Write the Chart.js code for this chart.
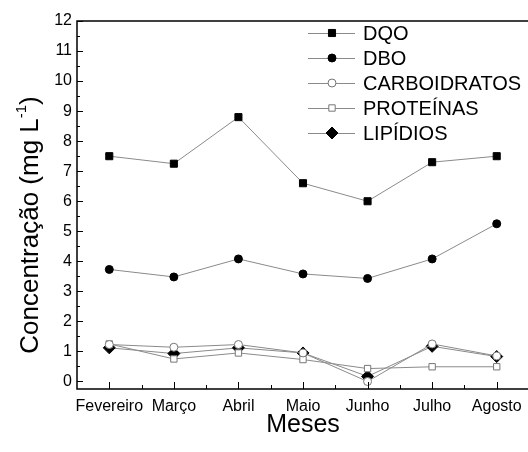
<!DOCTYPE html>
<html>
<head>
<meta charset="utf-8">
<script src="https://cdn.jsdelivr.net/npm/chart.js@4"></script>
<style>
  html, body { margin: 0; padding: 0; background: #fff; overflow: hidden; }
  #wrap { position: absolute; left: 0; top: 0; width: 536px; height: 452px; }
</style>
</head>
<body>
<div id="wrap"><canvas id="chart"></canvas></div>
<script>
const months = ['Fevereiro', 'Março', 'Abril', 'Maio', 'Junho', 'Julho', 'Agosto'];
const yTicks = [0, 1, 2, 3, 4, 5, 6, 7, 8, 9, 10, 11, 12];

const dqo = [7.5, 7.25, 8.8, 6.6, 6.0, 7.3, 7.5];
const dbo = [3.73, 3.48, 4.08, 3.58, 3.43, 4.08, 5.25];
const carboidratos = [1.23, 1.14, 1.23, 0.95, 0.0, 1.25, 0.85];
const proteinas = [1.25, 0.75, 0.95, 0.73, 0.43, 0.49, 0.49];
const lipidios = [1.12, 0.93, 1.12, 0.95, 0.17, 1.17, 0.83];

const FONT = '"Liberation Sans", Arial, sans-serif';
const LINE = '#8a8a8a';

function series(label, data, style, radius, filled) {
    return {
        label: label,
        data: data,
        borderColor: LINE,
        borderWidth: 1,
        pointStyle: style,
        pointRadius: radius,
        pointBorderColor: filled ? '#000' : '#777',
        pointBackgroundColor: filled ? '#000' : '#fff',
        pointBorderWidth: 1,
        tension: 0
    };
}

// inward tick marks, frame, y title and legend
const decor = {
    id: 'decor',
    afterDatasetsDraw(chart) {
        const ctx = chart.ctx;
        const a = chart.chartArea;
        const x = chart.scales.x;
        const y = chart.scales.y;
        ctx.save();
        ctx.strokeStyle = '#000';
        ctx.lineWidth = 1;

        // y ticks
        for (let v = 0; v <= 12; v += 0.5) {
            const py = Math.round(y.getPixelForValue(v)) + 0.5;
            const len = (v % 1 === 0) ? 6 : 3;
            ctx.beginPath();
            ctx.moveTo(a.left, py); ctx.lineTo(a.left + len, py);
            ctx.stroke();
        }
        // x ticks
        for (let i = 0; i < months.length; i++) {
            const px = Math.round(x.getPixelForValue(i)) + 0.5;
            ctx.beginPath();
            ctx.moveTo(px, a.bottom); ctx.lineTo(px, a.bottom - 7);
            ctx.stroke();
            if (i < months.length - 1) {
                const pm = Math.round((x.getPixelForValue(i) + x.getPixelForValue(i + 1)) / 2) + 0.5;
                ctx.beginPath();
                ctx.moveTo(pm, a.bottom); ctx.lineTo(pm, a.bottom - 4);
                ctx.stroke();
            }
        }
        // frame
        ctx.lineWidth = 1.5;
        ctx.strokeRect(a.left, a.top, a.right - a.left, a.bottom - a.top);

        // y title with superscript
        ctx.fillStyle = '#000';
        ctx.translate(31, 225);
        ctx.rotate(-Math.PI / 2);
        ctx.textBaseline = 'middle';
        const main = 'Concentração (mg L';
        ctx.font = '26px ' + FONT;
        const w1 = ctx.measureText(main).width;
        ctx.font = '15px ' + FONT;
        const w2 = ctx.measureText('-1').width;
        ctx.font = '26px ' + FONT;
        const w3 = ctx.measureText(')').width;
        let tx = -(w1 + w2 + w3) / 2;
        ctx.textAlign = 'left';
        ctx.fillText(main, tx, 0);
        tx += w1;
        ctx.font = '15px ' + FONT;
        ctx.fillText('-1', tx, -9);
        tx += w2;
        ctx.font = '26px ' + FONT;
        ctx.fillText(')', tx, 0);
        ctx.restore();

        // legend
        ctx.save();
        chart.data.datasets.forEach((ds, i) => {
            const ly = 33 + i * 25;
            ctx.strokeStyle = LINE;
            ctx.lineWidth = 1;
            ctx.beginPath();
            ctx.moveTo(308, ly + 0.5); ctx.lineTo(355, ly + 0.5);
            ctx.stroke();
            ctx.strokeStyle = ds.pointBorderColor;
            ctx.fillStyle = ds.pointBackgroundColor;
            Chart.helpers.drawPoint(ctx, {pointStyle: ds.pointStyle, radius: ds.pointRadius, borderWidth: 1}, 332, ly);
            ctx.fillStyle = '#000';
            ctx.font = '20px ' + FONT;
            ctx.textAlign = 'left';
            ctx.textBaseline = 'middle';
            ctx.fillText(ds.label, 363, ly + 1);
        });
        ctx.restore();
    }
};

new Chart(document.getElementById('chart'), {
    type: 'line',
    data: {
        labels: months,
        datasets: [
            series('DQO', dqo, 'rect', 5, true),
            series('DBO', dbo, 'circle', 4, true),
            series('CARBOIDRATOS', carboidratos, 'circle', 4, false),
            series('PROTEÍNAS', proteinas, 'rect', 4.5, false),
            series('LIPÍDIOS', lipidios, 'rectRot', 6, true)
        ]
    },
    options: {
        responsive: true,
        maintainAspectRatio: false,
        animation: false,
        layout: { padding: { left: 0, top: 21, right: 0, bottom: 0 } },
        plugins: {
            legend: { display: false },
            tooltip: { enabled: false }
        },
        scales: {
            x: {
                type: 'category',
                offset: true,
                grid: { display: false, drawTicks: false },
                border: { display: false },
                ticks: {
                    color: '#000', padding: 8, autoSkip: false,
                    maxRotation: 0, minRotation: 0,
                    font: { family: FONT, size: 16 }
                },
                title: {
                    display: true, text: 'Meses', color: '#000',
                    font: { family: FONT, size: 25 },
                    padding: { top: 0, bottom: 12 }
                },
                afterFit(scale) {
                    scale.height = 63;
                    scale.paddingLeft = 0;
                    scale.paddingRight = 0;
                }
            },
            y: {
                min: -0.25,
                max: 12,
                grid: { display: false, drawTicks: false },
                border: { display: false },
                ticks: { color: '#000', padding: 5, font: { family: FONT, size: 16 } },
                afterBuildTicks(scale) { scale.ticks = yTicks.map(v => ({ value: v })); },
                afterFit(scale) {
                    scale.width = 77;
                    scale.paddingTop = 0;
                    scale.paddingBottom = 0;
                }
            }
        }
    },
    plugins: [decor]
});
</script>
</body>
</html>
